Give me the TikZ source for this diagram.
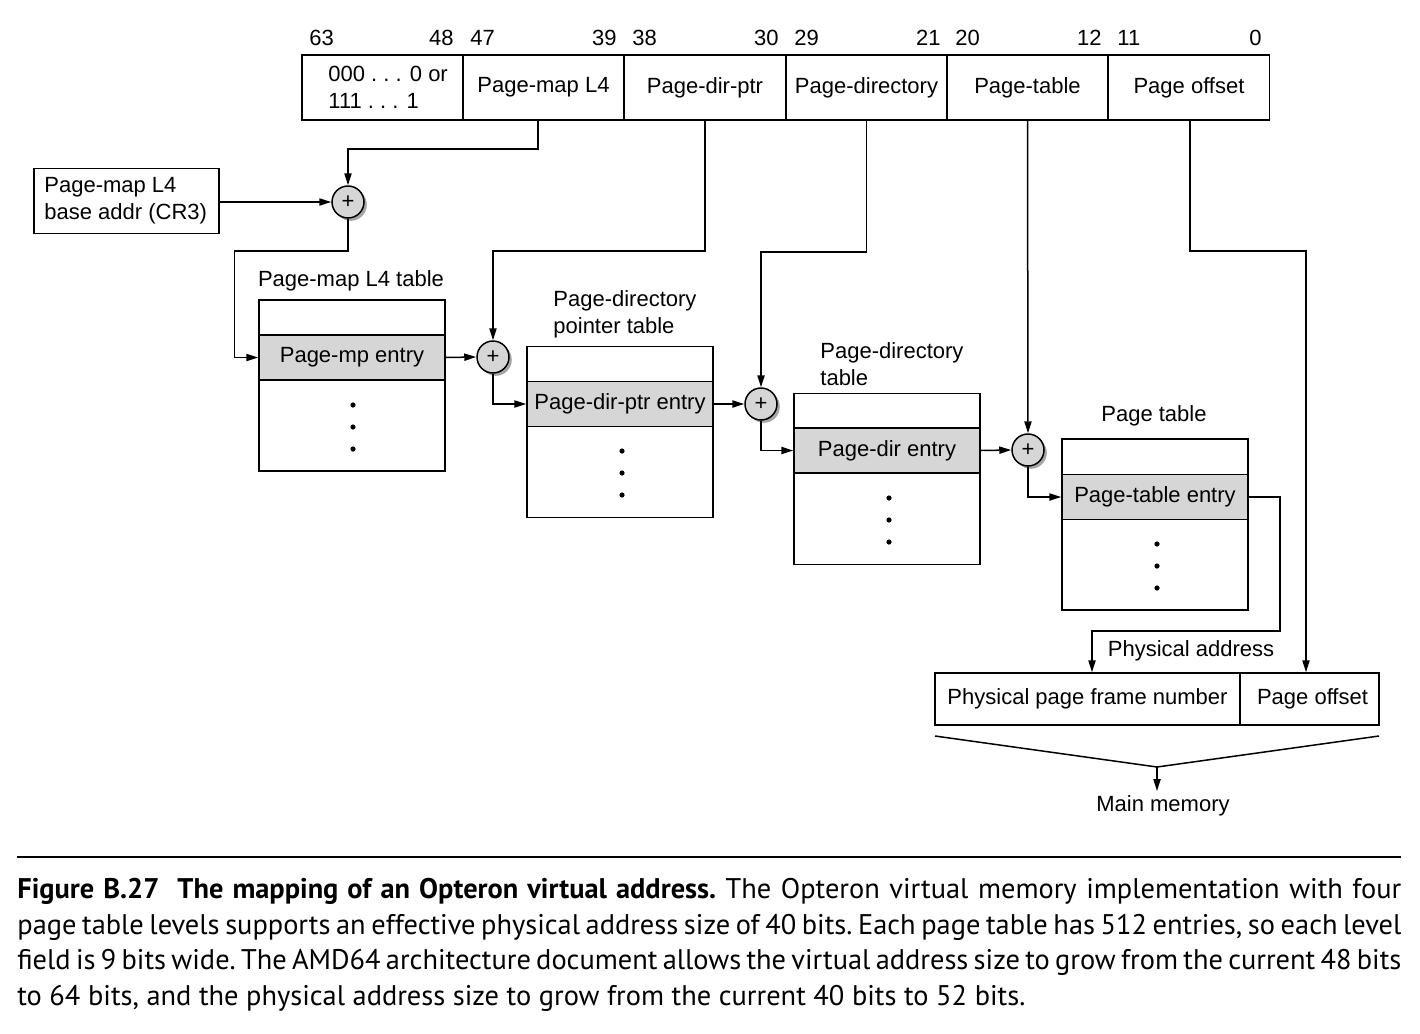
\documentclass[tikz,border=0pt]{standalone}
\usepackage{fontspec}
\setmainfont{Liberation Sans}
\newfontfamily\capfont{PT Sans}
\usetikzlibrary{arrows.meta,shadows,calc}
\begin{document}
\begin{tikzpicture}[x=0.5pt,y=-0.5pt,
  every node/.style={font=\fontsize{11}{13.5}\selectfont, inner sep=0pt},
  lw/.style={line width=0.75pt},
  field/.style={draw, lw, minimum width=80.5pt, minimum height=32.5pt, align=center},
  tbl/.style={draw, lw, minimum width=93pt, minimum height=85.5pt},
  entry/.style={draw, lw, fill=black!16, minimum width=93pt, minimum height=22.5pt},
  adder/.style={circle, draw, lw, fill=black!16, minimum size=16pt,
     drop shadow={shadow xshift=1.4pt, shadow yshift=-1.4pt, fill=black!50, opacity=0.7}},
  arr/.style={lw, -{Triangle[length=6pt,width=3.6pt]}},
  conn/.style={lw},
  dotm/.style={circle, fill=black, minimum size=2.6pt}
]
\useasboundingbox (0,0) rectangle (1420,1034);

% virtual address register
\node[field, minimum width=80.5pt] (f1) at (382.5,87.5) {};
\node[anchor=west, align=left] (f1txt) at (328,87.5) {000 .\ .\ . 0 or\\111 .\ .\ . 1};
\node[field] (f2) at (543.5,87.5) {Page-map L4};
\node[field] (f3) at (705,87.5) {Page-dir-ptr};
\node[field] (f4) at (866.5,87.5) {Page-directory};
\node[field] (f5) at (1027.5,87.5) {Page-table};
\node[field] (f6) at (1189,87.5) {Page offset};

% bit numbers
\node[anchor=west] (b63) at (309,38) {63};
\node[anchor=east] (b48) at (454,38) {48};
\node[anchor=west] (b47) at (470,38) {47};
\node[anchor=east] (b39) at (617,38) {39};
\node[anchor=west] (b38) at (632,38) {38};
\node[anchor=east] (b30) at (779,38) {30};
\node[anchor=west] (b29) at (794,38) {29};
\node[anchor=east] (b21) at (941,38) {21};
\node[anchor=west] (b20) at (955,38) {20};
\node[anchor=east] (b12) at (1102,38) {12};
\node[anchor=west] (b11) at (1117,38) {11};
\node[anchor=east] (b0) at (1262,38) {0};

% base address
\node[draw, lw, minimum width=92.5pt, minimum height=32.5pt] (base) at (126.5,201) {};
\node[anchor=west, align=left] (basetxt) at (44,201) {Page-map L4\\base addr (CR3)};

% adders
\node[adder] (c1) at (348,202) {+};
\node[adder] (c2) at (493,357) {+};
\node[adder] (c3) at (761,404) {+};
\node[adder] (c4) at (1028,450) {+};

% tables
\node[tbl] (t1) at (352,385.5) {};
\node[entry] (e1) at (352,357.5) {Page-mp entry};
\node (l1) at (351,281) {Page-map L4 table};
\node[tbl] (t2) at (620,432) {};
\node[entry] (e2) at (620,404) {Page-dir-ptr entry};
\node[anchor=west, align=left] (l2) at (553,314) {Page-directory\\pointer table};
\node[tbl] (t3) at (887,479) {};
\node[entry] (e3) at (887,450.5) {Page-dir entry};
\node[anchor=west, align=left] (l3) at (820,364) {Page-directory\\table};
\node[tbl] (t4) at (1155,524.5) {};
\node[entry] (e4) at (1155,497) {Page-table entry};
\node (l4) at (1154,416) {Page table};

% dots
\foreach \x/\t in {353/300,622/346,889/393,1157/439}{
  \foreach \d in {105,127,149}{
    \node[dotm] at (\x,\t+\d) {};
  }
}

% physical address
\node[draw, lw, minimum width=152.5pt, minimum height=26pt] (pf) at (1087.5,699) {Physical page frame number};
\node[draw, lw, minimum width=69.5pt, minimum height=26pt] (po) at (1309.5,699) {\hspace*{3pt}Page offset};
\node (pa) at (1191,651) {Physical address};
\coordinate (fun) at (1157,767);
\node (mm) at (1163,806) {Main memory};

% connectors
\draw[arr] (base.east |- c1) -- (c1.west);
\draw[arr] ([xshift=-2.75pt]f2.south) -- ++(0,28) -| (c1.north);
\draw[arr] (f3.south) -- ++(0,130) -| (c2.north);
\draw[arr] (f4.south) -- ++(0,131) -| (c3.north);
\draw[arr] (f5.south) -- (c4.north);
\draw[arr] ([xshift=0.5pt]f6.south) -- ++(0,130) -| ([xshift=-1.75pt]po.north);
\draw[arr] (c1.south) -- ++(0,32) -| ($(e1.west)+(-24,0)$) -- (e1.west);
\draw[arr] (e1.east) -- (c2.west);
\draw[arr] (c2.south) |- (e2.west);
\draw[arr] (e2.east) -- (c3.west);
\draw[arr] (c3.south) |- (e3.west);
\draw[arr] (e3.east) -- (c4.west);
\draw[arr] (c4.south) |- (e4.west);
\draw[arr] (e4.east) -| (1280,631) -| ([xshift=2.25pt]pf.north);
\draw[conn] (935,736) -- (fun) -- (1379,736);
\draw[arr] (fun) -- (1157,791);

% caption
\draw[line width=0.9pt] (17,857) -- (1401,857);
\node[anchor=north west, text width=692pt, align=justify,
  font=\capfont\fontsize{14.2}{17.75}\selectfont\frenchspacing] (cap) at (17,878)
{\textbf{Figure B.27\ \ The mapping of an Opteron virtual address.} The Opteron virtual memory implementation with four\linebreak
page table levels supports an effective physical address size of 40 bits. Each page table has 512 entries, so each level\linebreak
field is 9 bits wide. The AMD64 architecture document allows the virtual address size to grow from the current 48 bits\linebreak
to 64 bits, and the physical address size to grow from the current 40 bits to 52 bits.};
\end{tikzpicture}
\end{document}
